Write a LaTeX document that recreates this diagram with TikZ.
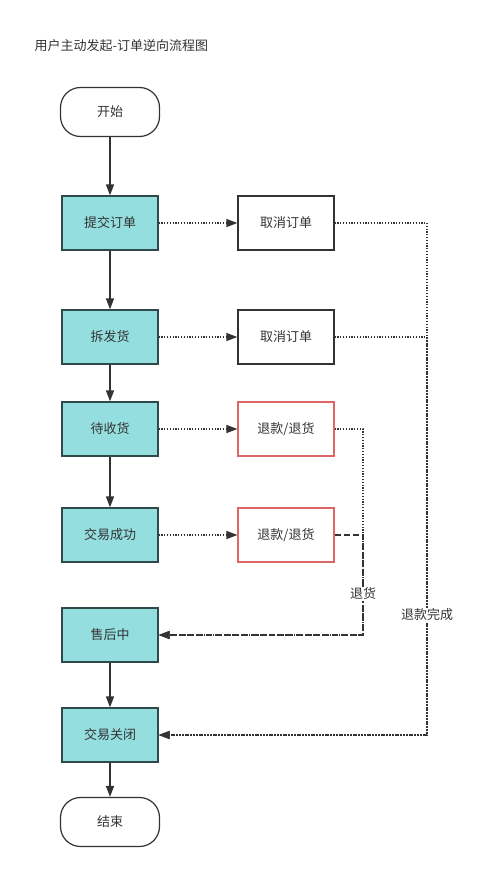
\documentclass[tikz,border=0pt]{standalone}
\usepackage{fontspec}
\setmainfont{Noto Sans CJK SC}
\usetikzlibrary{arrows.meta,positioning}
\definecolor{boxfill}{HTML}{95DEDF}
\definecolor{boxline}{HTML}{2E4A4B}
\definecolor{redline}{HTML}{DE6666}
\definecolor{linegray}{HTML}{333333}

\begin{document}
\begin{tikzpicture}[x=1pt, y=-1pt,
	font=\fontsize{13}{15}\selectfont, text=linegray,
	flowbox/.style={draw=boxline, fill=boxfill, line width=1.3pt, minimum width=96pt, minimum height=54pt, inner sep=0pt},
	termbox/.style={draw=linegray, line width=1.2pt, rounded corners=20pt, minimum width=99pt, minimum height=49pt},
	cancelbox/.style={draw=linegray, line width=1.3pt, minimum width=96pt, minimum height=54pt},
	refundbox/.style={draw=redline, line width=1.2pt, minimum width=96pt, minimum height=54pt},
	tip/.style={-{Triangle[length=11pt, width=8pt]}},
	solidarrow/.style={tip, draw=linegray, line width=1.5pt},
	dotarrow/.style={tip, draw=linegray, line width=1.3pt, dash pattern=on 1.2pt off 1.6pt},
	dasharrow/.style={tip, draw=linegray, line width=1.4pt, dash pattern=on 6pt off 3pt},
	tag/.style={fill=white, inner sep=1pt}]
	\useasboundingbox (0,0) rectangle (479,872);

	\node[anchor=west] (title) at (31,46) {用户主动发起-订单逆向流程图};

	% main column
	\node[termbox] (start) at (110,112) {开始};
	\node[flowbox] (submit) at (110,223) {提交订单};
	\node[flowbox] (split) at (110,337) {拆发货};
	\node[flowbox] (await) at (110,429) {待收货};
	\node[flowbox] (done) at (110,535) {交易成功};
	\node[flowbox] (service) at (110,635) {售后中};
	\node[flowbox] (closed) at (110,735) {交易关闭};
	\node[termbox] (finish) at (110,822) {结束};

	% side column
	\node[cancelbox] (cancelA) at (286,223) {取消订单};
	\node[cancelbox] (cancelB) at (286,337) {取消订单};
	\node[refundbox] (refundA) at (286,429) {退款/退货};
	\node[refundbox] (refundB) at (286,535) {退款/退货};

	\coordinate (returnturn) at (363,635);
	\coordinate (refundturn) at (427,735);

	\draw[solidarrow] (start) -- (submit);
	\draw[solidarrow] (submit) -- (split);
	\draw[solidarrow] (split) -- (await);
	\draw[solidarrow] (await) -- (done);
	\draw[solidarrow] (service) -- (closed);
	\draw[solidarrow] (closed) -- (finish);

	\draw[dotarrow] (submit) -- (cancelA);
	\draw[dotarrow] (split) -- (cancelB);
	\draw[dotarrow] (await) -- (refundA);
	\draw[dotarrow] (done) -- (refundB);

	\draw[dotarrow] (cancelA.east) -| (refundturn) -- (closed.east);
	\draw[dotarrow] (cancelB.east) -| (refundturn) -- (closed.east);
	\draw[dotarrow] (refundA.east) -| (returnturn) -- (service.east);
	\draw[dasharrow] (refundB.east) -| (returnturn) -- (service.east);

	\node[tag] (returnlabel) at (363,594) {退货};
	\node[tag] (refundlabel) at (427,615) {退款完成};
\end{tikzpicture}
\end{document}
